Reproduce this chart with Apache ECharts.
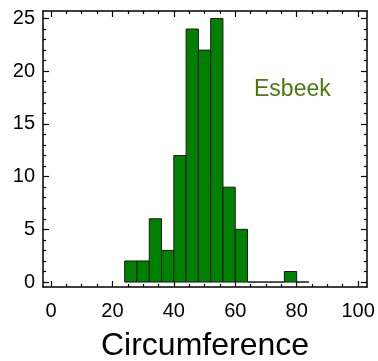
<!DOCTYPE html>
<html><head><meta charset="utf-8">
<script src="https://cdn.jsdelivr.net/npm/echarts@6/dist/echarts.min.js"></script>
<style>html,body{margin:0;padding:0;background:#fff}#c{width:378px;height:361px}</style>
</head><body><div id="c"></div>
<script>
const binStarts = [24, 28, 32, 36, 40, 44, 48, 52, 56, 60, 64, 68, 72, 76, 80];
const counts    = [2, 2, 6, 3, 12, 24, 22, 25, 9, 5, 0, 0, 0, 1, 0];
const binWidth = 4;
const xMajor = [0, 20, 40, 60, 80, 100];
const xMinor = [5, 10, 15, 25, 30, 35, 45, 50, 55, 65, 70, 75, 85, 90, 95];
const yMajor = [0, 5, 10, 15, 20, 25];
const yMinor = [1,2,3,4,6,7,8,9,11,12,13,14,16,17,18,19,21,22,23,24];
const xTitle = 'Circumference';
const label = 'Esbeek';

const FONT = 'Liberation Sans, Arial, sans-serif';
const X_MIN = -2.6, X_MAX = 102.9, Y_MIN = -0.47, Y_MAX = 25.71;

function xAx(pos, ticks, len, showLine, showLabel, extra) {
  return Object.assign({
    type: 'value', position: pos, min: X_MIN, max: X_MAX,
    axisLine: {show: showLine, onZero: false, lineStyle: {color: '#000', width: 1.5}},
    axisTick: {show: true, inside: true, length: len, customValues: ticks, lineStyle: {color: '#000', width: 1.2}},
    axisLabel: {show: showLabel, customValues: ticks, color: '#000', fontSize: 20, fontFamily: FONT, margin: 14},
    splitLine: {show: false}
  }, extra || {});
}
function yAx(pos, ticks, len, showLine, showLabel) {
  return {
    type: 'value', position: pos, min: Y_MIN, max: Y_MAX,
    axisLine: {show: showLine, onZero: false, lineStyle: {color: '#000', width: 1.5}},
    axisTick: {show: true, inside: true, length: len, customValues: ticks, lineStyle: {color: '#000', width: 1.2}},
    axisLabel: {show: showLabel, customValues: ticks, color: '#000', fontSize: 20, fontFamily: FONT, margin: 8},
    splitLine: {show: false}
  };
}

const chart = echarts.init(document.getElementById('c'), null, {renderer: 'canvas'});
chart.setOption({
  animation: false,
  grid: {left: 43, right: 11, top: 11, bottom: 74, containLabel: false, outerBoundsMode: 'none'},
  xAxis: [
    xAx('bottom', xMajor, 6, true, true, {name: xTitle, nameLocation: 'middle', nameGap: 43,
      nameTextStyle: {fontSize: 32, fontFamily: FONT, color: '#000'}}),
    xAx('bottom', xMinor, 3, false, false),
    xAx('top', xMajor, 6, true, false),
    xAx('top', xMinor, 3, false, false)
  ],
  yAxis: [
    yAx('left', yMajor, 6, true, true),
    yAx('left', yMinor, 3, false, false),
    yAx('right', yMajor, 6, true, false),
    yAx('right', yMinor, 3, false, false)
  ],
  series: [{
    type: 'custom',
    xAxisIndex: 0, yAxisIndex: 0,
    data: binStarts.map((s, i) => [s, s + binWidth, counts[i]]),
    renderItem: function (params, api) {
      const p0 = api.coord([api.value(0), 0]);
      const p1 = api.coord([api.value(1), api.value(2)]);
      return {
        type: 'rect',
        shape: {x: p0[0], y: p1[1], width: p1[0] - p0[0], height: p0[1] - p1[1]},
        style: {fill: '#008000', stroke: '#1a1a1a', lineWidth: 1}
      };
    }
  }],
  graphic: [{
    type: 'text', left: 254, top: 78,
    style: {text: label, fill: '#4a7a0c', fontSize: 23, fontFamily: FONT}
  }]
});
</script></body></html>
